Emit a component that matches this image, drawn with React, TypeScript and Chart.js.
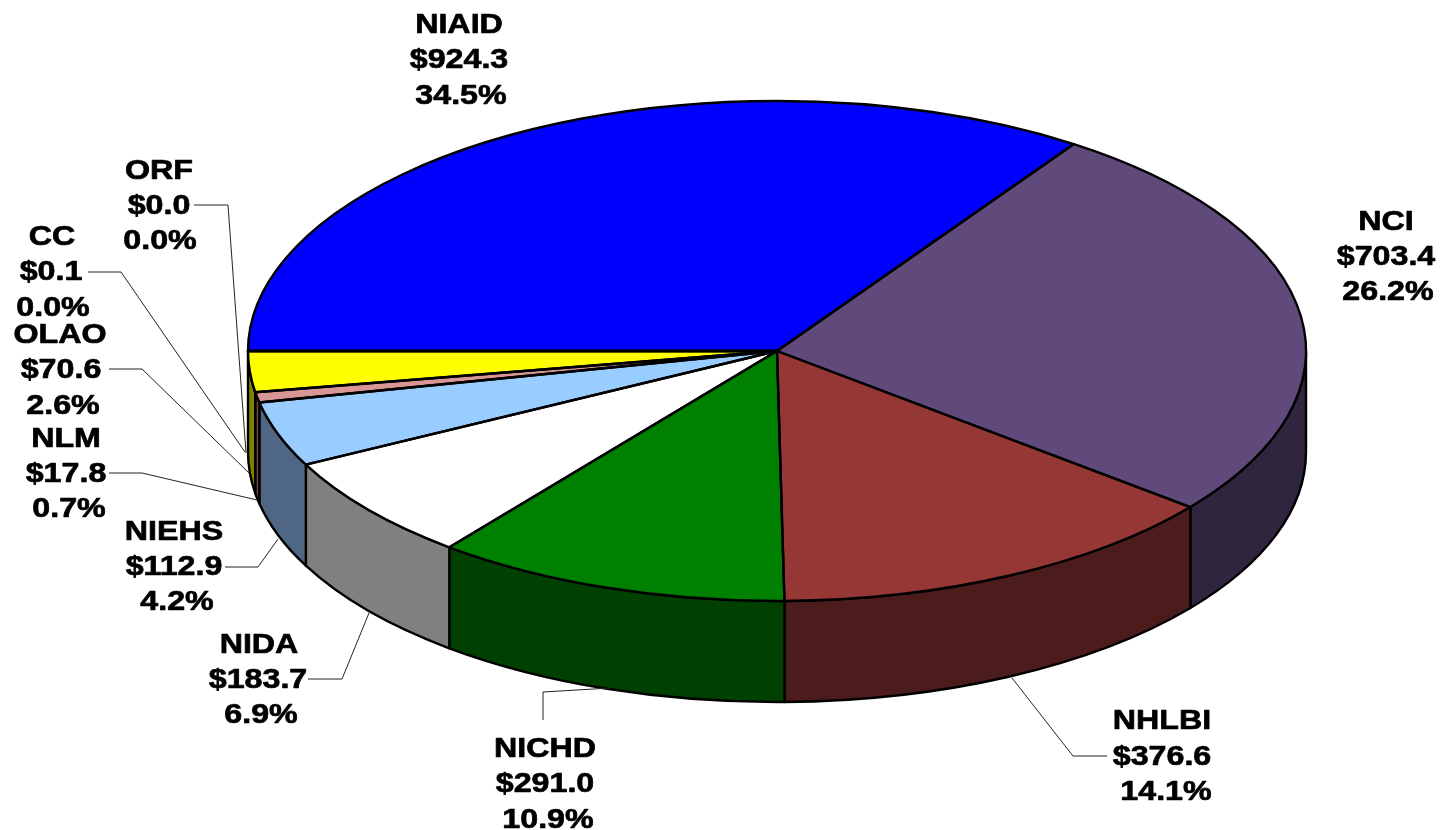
import React, { useEffect, useRef } from "react";
import { Chart, registerables } from "chart.js";

Chart.register(...registerables);

const categories = ["NIAID", "NCI", "NHLBI", "NICHD", "NIDA", "NIEHS", "NLM", "OLAO", "CC", "ORF"];
const amounts = [924.3, 703.4, 376.6, 291.0, 183.7, 112.9, 17.8, 70.6, 0.1, 0.0];
const shares = ["34.5%", "26.2%", "14.1%", "10.9%", "6.9%", "4.2%", "0.7%", "2.6%", "0.0%", "0.0%"];
const topColors = ["#0000FF", "#604A7B", "#953735", "#008000", "#FFFFFF", "#99CCFF", "#D99694", "#FFFF00", "#FFFFFF", "#FFFFFF"];
const wallColors = ["#000080", "#30253E", "#4B1C1B", "#004000", "#808080", "#4F6785", "#6C4B4A", "#808000", "#808080", "#808080"];

// Layout of the drawing, separate from the data.
const SQUASH = { cx: 777, cy: 351, rx: 529, ry: 250, depth: 101 };
const BASE_RADIUS = 250;
const FONT = 'bold 28px "Liberation Sans", Arial, sans-serif';
const STRETCH = 1.15;

// [center x, baseline y] for the three lines of each label, in category order.
const labelLines: number[][][] = [
  [[459, 33], [459, 68], [461, 104]],
  [[1386, 230], [1386, 265], [1388, 300]],
  [[1162, 729], [1162, 765], [1166, 800]],
  [[545, 757], [545, 792], [548, 828]],
  [[259, 653], [258, 688], [261, 723]],
  [[174, 540], [174, 575], [177, 610]],
  [[66, 447], [66, 482], [69, 517]],
  [[60, 343], [61, 378], [63, 414]],
  [[52, 245], [51, 280], [53, 316]],
  [[159, 179], [159, 214], [160, 249]],
];

const leaders: number[][][] = [
  [],
  [],
  [[1107, 756], [1073, 756], [1012, 678]],
  [[543, 720], [543, 692], [610, 688]],
  [[308, 679], [342, 679], [369, 613]],
  [[225, 567], [258, 567], [278, 539]],
  [[109, 473], [142, 473], [257, 500]],
  [[109, 369], [142, 369], [249, 473]],
  [[88, 272], [121, 272], [245, 452]],
  [[194, 205], [228, 205], [246, 453]],
];

const pie3d = {
  id: "pie3d",
  beforeDatasetsDraw(chart: any) {
    const ctx: CanvasRenderingContext2D = chart.ctx;
    const arcs = chart.getDatasetMeta(0).data;
    const { cx, cy, rx, ry, depth } = SQUASH;
    ctx.save();
    ctx.lineJoin = "round";
    ctx.lineWidth = 2.4;
    ctx.strokeStyle = "#000000";
    arcs.forEach((arc: any, i: number) => {
      const lo = Math.max(arc.startAngle, 0);
      const hi = Math.min(arc.endAngle, Math.PI);
      if (hi - lo <= 0.0005) return;
      ctx.beginPath();
      ctx.ellipse(cx, cy, rx, ry, 0, lo, hi, false);
      ctx.lineTo(cx + rx * Math.cos(hi), cy + ry * Math.sin(hi) + depth);
      ctx.ellipse(cx, cy + depth, rx, ry, 0, hi, lo, true);
      ctx.closePath();
      ctx.fillStyle = wallColors[i];
      ctx.fill();
      ctx.stroke();
    });
    ctx.restore();

    const first = arcs[0];
    ctx.save();
    ctx.translate(cx, cy);
    ctx.scale(rx / first.outerRadius, ry / first.outerRadius);
    ctx.translate(-first.x, -first.y);
  },
  afterDatasetsDraw(chart: any) {
    const ctx: CanvasRenderingContext2D = chart.ctx;
    ctx.restore();
    const arcs = chart.getDatasetMeta(0).data;
    const { cx, cy, rx, ry } = SQUASH;
    ctx.save();
    ctx.lineJoin = "round";
    ctx.lineWidth = 2.4;
    ctx.strokeStyle = "#000000";
    arcs.forEach((arc: any) => {
      ctx.beginPath();
      ctx.moveTo(cx, cy);
      ctx.ellipse(cx, cy, rx, ry, 0, arc.startAngle, arc.endAngle, false);
      ctx.closePath();
      ctx.stroke();
    });

    ctx.lineWidth = 1;
    ctx.strokeStyle = "#222222";
    leaders.forEach((pts) => {
      if (!pts.length) return;
      ctx.beginPath();
      pts.forEach(([x, y], k) => (k ? ctx.lineTo(x, y) : ctx.moveTo(x, y)));
      ctx.stroke();
    });

    ctx.fillStyle = "#000000";
    ctx.strokeStyle = "#000000";
    ctx.lineWidth = 0.7;
    ctx.font = FONT;
    ctx.textAlign = "center";
    ctx.textBaseline = "alphabetic";
    categories.forEach((name, i) => {
      const texts = [name, "$" + amounts[i].toFixed(1), shares[i]];
      texts.forEach((t, k) => {
        const [x, y] = labelLines[i][k];
        ctx.save();
        ctx.translate(x, y);
        ctx.scale(STRETCH, 1);
        ctx.fillText(t, 0, 0);
        ctx.strokeText(t, 0, 0);
        ctx.restore();
      });
    });
    ctx.restore();
  },
};

export default function App() {
  const ref = useRef<HTMLCanvasElement>(null);
  useEffect(() => {
    const chart = new Chart(ref.current as HTMLCanvasElement, {
      type: "pie",
      data: {
        labels: categories,
        datasets: [{ data: amounts, backgroundColor: topColors, borderWidth: 0 }],
      },
      options: {
        responsive: false,
        animation: false,
        devicePixelRatio: 1,
        rotation: -90,
        radius: BASE_RADIUS,
        layout: { padding: 0 },
        plugins: { legend: { display: false }, tooltip: { enabled: false } },
      } as any,
      plugins: [pie3d as any],
    });
    return () => chart.destroy();
  }, []);
  return (
    <canvas
      ref={ref}
      width={1441}
      height={830}
      style={{ position: "absolute", left: 0, top: 0, width: 1441, height: 830, background: "#ffffff" }}
    />
  );
}
